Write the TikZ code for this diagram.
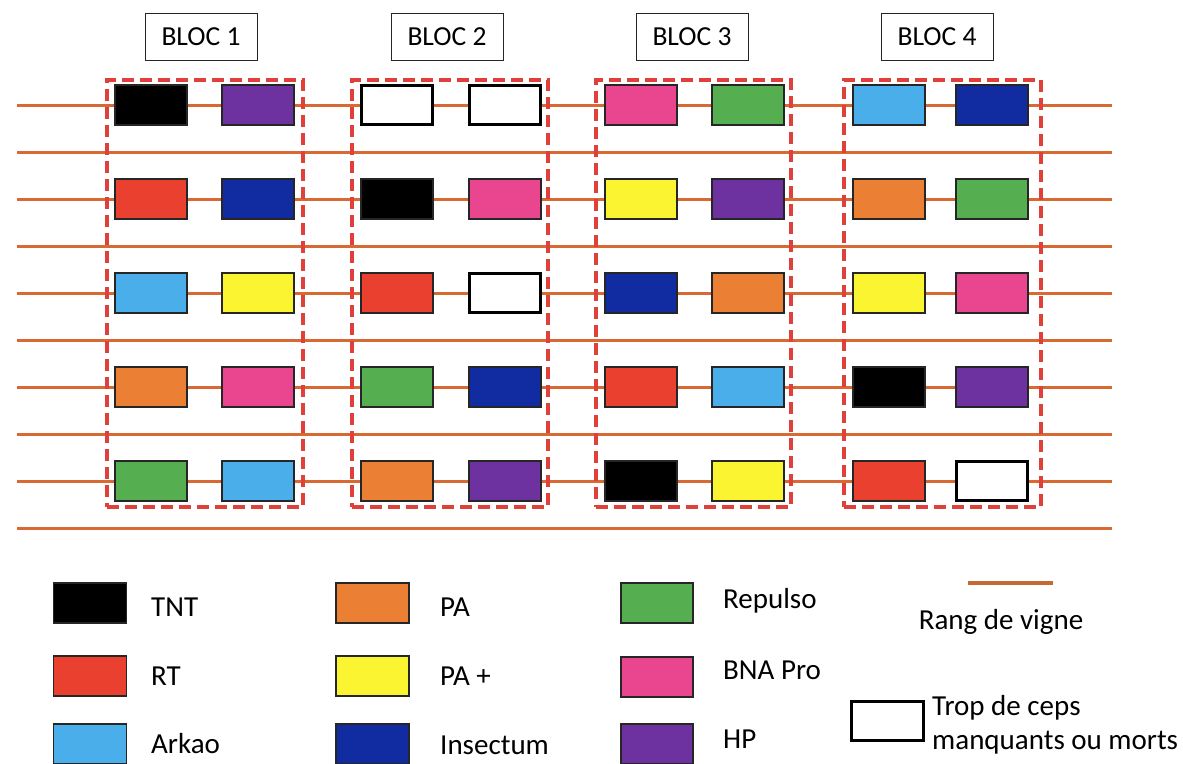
\documentclass[tikz,border=0pt]{standalone}
\usepackage{fontspec}
\setmainfont{Carlito}
\definecolor{cTNT}{RGB}{0,0,0}
\definecolor{cRT}{RGB}{233,64,48}
\definecolor{cArk}{RGB}{74,174,234}
\definecolor{cPA}{RGB}{235,127,51}
\definecolor{cPAp}{RGB}{251,244,49}
\definecolor{cIns}{RGB}{16,44,160}
\definecolor{cRep}{RGB}{85,175,80}
\definecolor{cBNA}{RGB}{234,70,144}
\definecolor{cHP}{RGB}{110,50,160}
\definecolor{rang}{RGB}{217,105,50}
\definecolor{rangleg}{RGB}{196,104,52}
\definecolor{dashred}{RGB}{224,64,58}
\tikzset{
  cell/.style={draw=black!85, line width=1.2pt, minimum width=72pt, minimum height=40pt, inner sep=0pt},
  emptycell/.style={draw=black, line width=3pt, fill=white, minimum width=71pt, minimum height=39pt, inner sep=0pt},
  k/TNT/.style={cell, fill=cTNT},
  k/RT/.style={cell, fill=cRT},
  k/Ark/.style={cell, fill=cArk},
  k/PA/.style={cell, fill=cPA},
  k/PAp/.style={cell, fill=cPAp},
  k/Ins/.style={cell, fill=cIns},
  k/Rep/.style={cell, fill=cRep},
  k/BNA/.style={cell, fill=cBNA},
  k/HP/.style={cell, fill=cHP},
  k/E/.style={emptycell},
  rowline/.style={draw=rang, line width=3pt},
  dbox/.style={draw=dashred, line width=4pt, dash pattern=on 12pt off 6pt, minimum height=427pt, inner sep=0pt},
  hdr/.style={draw=black!85, line width=1pt, minimum width=112pt, minimum height=47pt, inner sep=0pt, font=\fontsize{27.5}{32}\selectfont},
  legtxt/.style={anchor=base west, inner sep=0pt, font=\fontsize{29}{34}\selectfont},
}
\begin{document}
\begin{tikzpicture}[x=1pt, y=-1pt]
\useasboundingbox (0,0) rectangle (1183,763);
% vine rows
\foreach \k in {0,...,9} {
  \coordinate (rl\k) at (17,105+47*\k);
  \coordinate (rr\k) at (1112,105+47*\k);
  \draw[rowline] (rl\k) -- (rr\k);
}
% dashed blocks
\node[dbox, minimum width=196pt] (box1) at (205,293.5) {};
\node[dbox, minimum width=196pt] (box2) at (450,293.5) {};
\node[dbox, minimum width=195pt] (box3) at (693.5,293.5) {};
\node[dbox, minimum width=197pt] (box4) at (942.5,293.5) {};
% headers
\node[hdr] (h1) at (201,37) {BLOC 1};
\node[hdr] (h2) at (447,37) {BLOC 2};
\node[hdr] (h3) at (692,37) {BLOC 3};
\node[hdr] (h4) at (937,37) {BLOC 4};
% cells
\foreach \b/\xl/\xr/\cols in {
  1/151/258/{TNT,HP,RT,Ins,Ark,PAp,PA,BNA,Rep,Ark},
  2/397/505/{E,E,TNT,BNA,RT,E,Rep,Ins,PA,HP},
  3/641/748/{BNA,Rep,PAp,HP,Ins,PA,RT,Ark,TNT,PAp},
  4/889/992/{Ark,Ins,PA,Rep,PAp,BNA,TNT,HP,RT,E}} {
  \foreach \c [count=\n] in \cols {
    \pgfmathtruncatemacro\row{(\n+1)/2}
    \pgfmathsetmacro\xx{mod(\n,2)==1 ? \xl : \xr}
    \node[k/\c] (c\b-\n) at (\xx,105+94*\row-94) {};
  }
}
% legend
\node[k/TNT, minimum width=73pt] (lTNT) at (90,603) {};
\node[k/RT, minimum width=73pt] (lRT) at (90,676) {};
\node[k/Ark, minimum width=73pt] (lArk) at (90,744) {};
\node[k/PA, minimum width=73pt] (lPA) at (372.5,603) {};
\node[k/PAp, minimum width=73pt] (lPAp) at (372.5,676) {};
\node[k/Ins, minimum width=73pt] (lIns) at (372.5,744) {};
\node[k/Rep, minimum width=72pt] (lRep) at (657,603) {};
\node[k/BNA, minimum width=72pt] (lBNA) at (657,677) {};
\node[k/HP, minimum width=72pt] (lHP) at (657,744) {};
\node[legtxt] (tTNT) at (151,616) {TNT};
\node[legtxt] (tRT) at (151,685) {RT};
\node[legtxt] (tArk) at (151,753) {Arkao};
\node[legtxt] (tPA) at (440,616) {PA};
\node[legtxt] (tPAp) at (440,685) {PA +};
\node[legtxt] (tIns) at (440,754) {Insectum};
\node[legtxt] (tRep) at (723,608) {Repulso};
\node[legtxt] (tBNA) at (723,679) {BNA Pro};
\node[legtxt] (tHP) at (723,748) {HP};
\coordinate (lr1) at (968,583);
\coordinate (lr2) at (1053,583);
\draw[draw=rangleg, line width=3.5pt] (lr1) -- (lr2);
\node[legtxt, anchor=base] (tRang) at (1001,629) {Rang de vigne};
\node[emptycell, minimum width=72pt] (lE) at (887.5,721) {};
\node[legtxt] (tE1) at (932,715) {Trop de ceps};
\node[legtxt] (tE2) at (932,749) {manquants ou morts};
\end{tikzpicture}
\end{document}
